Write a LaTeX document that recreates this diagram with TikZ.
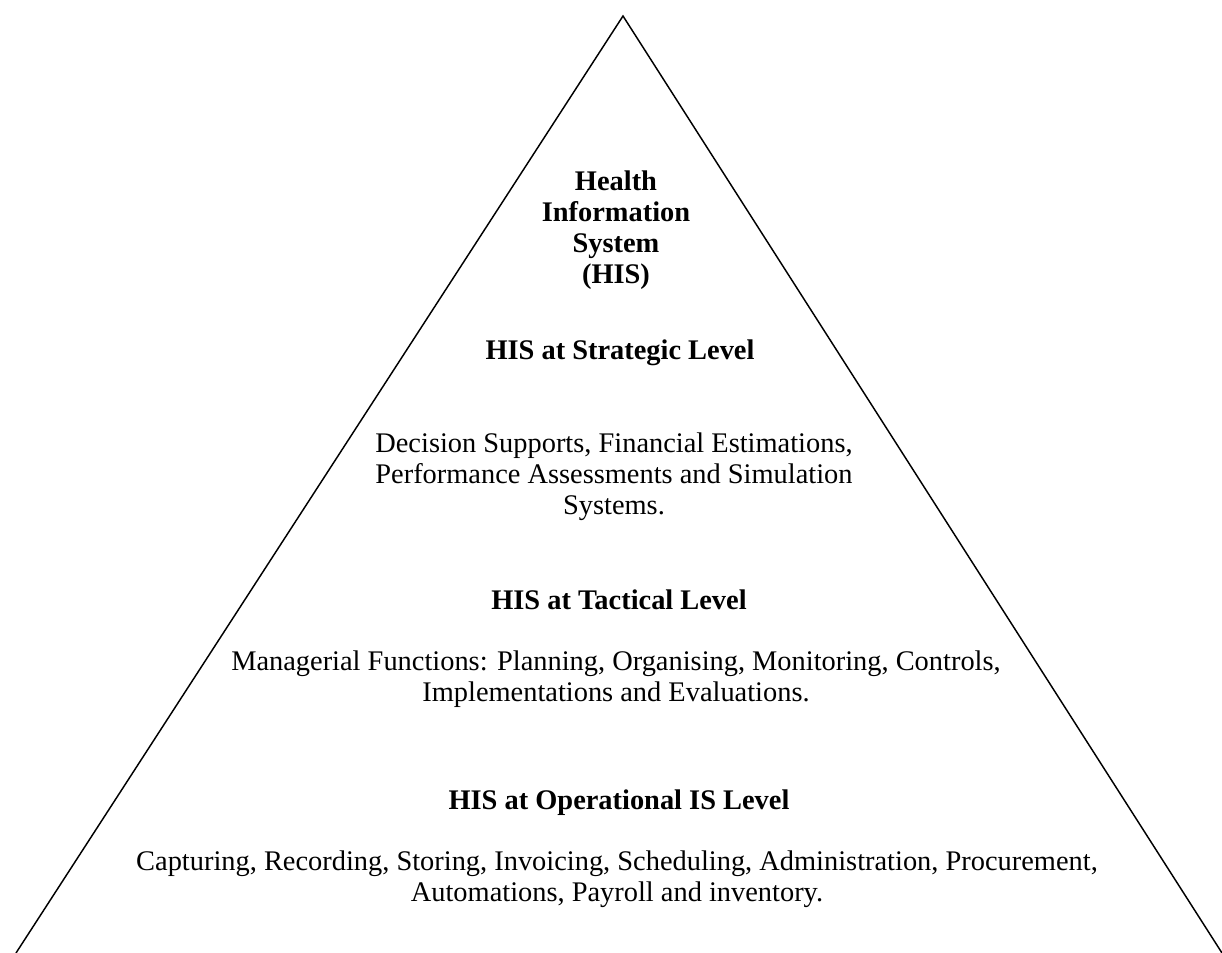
\documentclass[tikz,border=0pt]{standalone}
\usepackage{fontspec}
\setmainfont{Liberation Serif}
\begin{document}
\begin{tikzpicture}[x=0.75pt,y=-0.75pt,
  txt/.style={align=center,inner sep=0pt,font=\fontsize{21.3}{23.25}\selectfont},
  hd/.style={txt,font=\fontsize{21.3}{23.25}\selectfont\bfseries}]
\useasboundingbox (0,0) rectangle (1222,953);
\coordinate (apex) at (623,16);
\coordinate (bl) at (16,953);
\coordinate (br) at (1222,953);
\draw[line width=1.1pt] (bl) -- (apex) -- (br);
\node[hd] (his) at (616,230) {Health\\Information\\System\\(HIS)};
\node[hd] (strat) at (620,353) {HIS at Strategic Level};
\node[txt] (stratd) at (614,477) {Decision Supports, Financial Estimations,\\Performance Assessments and Simulation\\Systems.};
\node[hd] (tact) at (619,600) {HIS at Tactical Level};
\node[txt] (tactd) at (616,679) {Managerial Functions: Planning, Organising, Monitoring, Controls,\\Implementations and Evaluations.};
\node[hd] (oper) at (619,803) {HIS at Operational IS Level};
\node[txt] (operd) at (617,879) {Capturing, Recording, Storing, Invoicing, Scheduling, Administration, Procurement,\\Automations, Payroll and inventory.};
\end{tikzpicture}
\end{document}
